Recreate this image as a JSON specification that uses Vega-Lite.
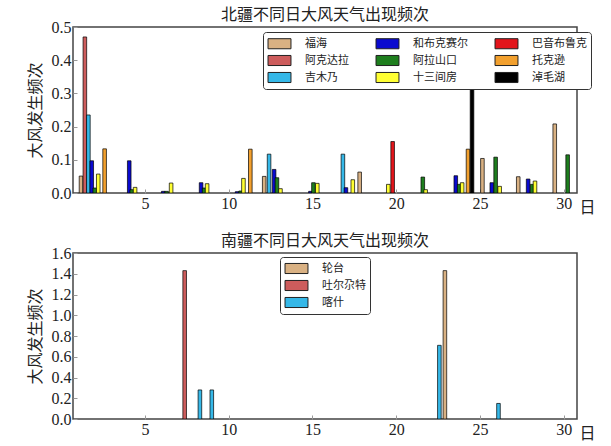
{
  "$schema": "https://vega.github.io/schema/vega-lite/v6.json",
  "background": "white",
  "padding": {"left": 26, "top": 6, "right": 5, "bottom": 0},
  "datasets": {
    "north": [
      {"station": "福海", "pos": 1.18, "freq": 0.051},
      {"station": "阿克达拉", "pos": 1.41, "freq": 0.47},
      {"station": "吉木乃", "pos": 1.62, "freq": 0.235},
      {"station": "和布克赛尔", "pos": 1.82, "freq": 0.097},
      {"station": "阿拉山口", "pos": 2.0, "freq": 0.015},
      {"station": "十三间房", "pos": 2.21, "freq": 0.057},
      {"station": "托克逊", "pos": 2.59, "freq": 0.133},
      {"station": "和布克赛尔", "pos": 4.06, "freq": 0.097},
      {"station": "阿拉山口", "pos": 4.21, "freq": 0.01},
      {"station": "十三间房", "pos": 4.41, "freq": 0.017},
      {"station": "和布克赛尔", "pos": 6.09, "freq": 0.005},
      {"station": "阿拉山口", "pos": 6.29, "freq": 0.005},
      {"station": "十三间房", "pos": 6.56, "freq": 0.03},
      {"station": "和布克赛尔", "pos": 8.35, "freq": 0.031},
      {"station": "阿拉山口", "pos": 8.53, "freq": 0.015},
      {"station": "十三间房", "pos": 8.71, "freq": 0.028},
      {"station": "和布克赛尔", "pos": 10.5, "freq": 0.004},
      {"station": "阿拉山口", "pos": 10.71, "freq": 0.006},
      {"station": "十三间房", "pos": 10.88, "freq": 0.044},
      {"station": "托克逊", "pos": 11.29, "freq": 0.132},
      {"station": "福海", "pos": 12.12, "freq": 0.05},
      {"station": "吉木乃", "pos": 12.41, "freq": 0.117},
      {"station": "和布克赛尔", "pos": 12.71, "freq": 0.071},
      {"station": "阿拉山口", "pos": 12.88, "freq": 0.046},
      {"station": "十三间房", "pos": 13.09, "freq": 0.013},
      {"station": "和布克赛尔", "pos": 14.88, "freq": 0.005},
      {"station": "阿拉山口", "pos": 15.06, "freq": 0.031},
      {"station": "十三间房", "pos": 15.29, "freq": 0.029},
      {"station": "吉木乃", "pos": 16.82, "freq": 0.117},
      {"station": "和布克赛尔", "pos": 17.0, "freq": 0.016},
      {"station": "十三间房", "pos": 17.41, "freq": 0.04},
      {"station": "福海", "pos": 17.82, "freq": 0.063},
      {"station": "十三间房", "pos": 19.53, "freq": 0.026},
      {"station": "巴音布鲁克", "pos": 19.79, "freq": 0.155},
      {"station": "阿拉山口", "pos": 21.59, "freq": 0.048},
      {"station": "十三间房", "pos": 21.76, "freq": 0.01},
      {"station": "和布克赛尔", "pos": 23.56, "freq": 0.052},
      {"station": "阿拉山口", "pos": 23.76, "freq": 0.026},
      {"station": "十三间房", "pos": 23.94, "freq": 0.031},
      {"station": "托克逊", "pos": 24.29, "freq": 0.132},
      {"station": "淖毛湖", "pos": 24.53, "freq": 0.4},
      {"station": "福海", "pos": 25.15, "freq": 0.104},
      {"station": "和布克赛尔", "pos": 25.71, "freq": 0.031},
      {"station": "阿拉山口", "pos": 25.94, "freq": 0.108},
      {"station": "十三间房", "pos": 26.18, "freq": 0.02},
      {"station": "福海", "pos": 27.29, "freq": 0.049},
      {"station": "和布克赛尔", "pos": 27.88, "freq": 0.042},
      {"station": "阿拉山口", "pos": 28.12, "freq": 0.026},
      {"station": "十三间房", "pos": 28.29, "freq": 0.036},
      {"station": "福海", "pos": 29.47, "freq": 0.208},
      {"station": "阿拉山口", "pos": 30.24, "freq": 0.115}
    ],
    "south": [
      {"station": "吐尔尕特", "pos": 7.37, "freq": 1.43},
      {"station": "喀什", "pos": 8.28, "freq": 0.28},
      {"station": "喀什", "pos": 8.99, "freq": 0.28},
      {"station": "喀什", "pos": 22.58, "freq": 0.71},
      {"station": "轮台", "pos": 22.91, "freq": 1.43},
      {"station": "喀什", "pos": 26.11, "freq": 0.15}
    ]
  },
  "vconcat": [
    {
      "width": 504,
      "height": 166,
      "title": {"text": "北疆不同日大风天气出现频次"},
      "data": {"name": "north"},
      "mark": {"type": "bar", "width": 3.6, "stroke": "black", "strokeWidth": 0.7, "clip": true},
      "encoding": {
        "x": {"field": "pos", "type": "quantitative", "scale": {"domain": [1, 30.5], "nice": false, "zero": false},
              "axis": {"values": [5, 10, 15, 20, 25, 30], "title": "日", "titleX": 514, "titleY": 19, "titleAlign": "center", "titleBaseline": "alphabetic", "titleAnchor": null}},
        "y": {"field": "freq", "type": "quantitative", "scale": {"domain": [0, 0.5], "nice": false},
              "axis": {"values": [0, 0.1, 0.2, 0.3, 0.4, 0.5], "format": ".1f", "title": "大风发生频次"}},
        "color": {"field": "station", "type": "nominal",
          "scale": {"domain": ["福海", "阿克达拉", "吉木乃", "和布克赛尔", "阿拉山口", "十三间房", "巴音布鲁克", "托克逊", "淖毛湖"],
                    "range": ["#D9B183", "#CD5C5C", "#35B8E8", "#0A0ACF", "#1E7E1E", "#FFFF33", "#E3151B", "#F2A02E", "#000000"]},
          "legend": {"orient": "none", "legendX": 190, "legendY": 5, "columns": 3, "columnPadding": 25}}
      }
    },
    {
      "width": 504,
      "height": 166,
      "title": {"text": "南疆不同日大风天气出现频次"},
      "data": {"name": "south"},
      "mark": {"type": "bar", "width": 3.6, "stroke": "black", "strokeWidth": 0.7, "clip": true},
      "encoding": {
        "x": {"field": "pos", "type": "quantitative", "scale": {"domain": [1, 30.5], "nice": false, "zero": false},
              "axis": {"values": [5, 10, 15, 20, 25, 30], "title": "日", "titleX": 514, "titleY": 19, "titleAlign": "center", "titleBaseline": "alphabetic", "titleAnchor": null}},
        "y": {"field": "freq", "type": "quantitative", "scale": {"domain": [0, 1.6], "nice": false},
              "axis": {"values": [0, 0.2, 0.4, 0.6, 0.8, 1.0, 1.2, 1.4, 1.6], "format": ".1f", "title": "大风发生频次"}},
        "color": {"field": "station", "type": "nominal",
          "scale": {"domain": ["轮台", "吐尔尕特", "喀什"], "range": ["#D9B183", "#CD5C5C", "#35B8E8"]},
          "legend": {"orient": "none", "legendX": 207, "legendY": 4, "columns": 1}}
      }
    }
  ],
  "spacing": 16,
  "resolve": {"scale": {"color": "independent"}, "legend": {"color": "independent"}},
  "config": {
    "view": {"stroke": "#444", "strokeWidth": 1.5},
    "title": {"font": "Noto Sans CJK SC", "fontSize": 16, "fontWeight": "normal", "color": "#222", "offset": -2, "dy": 2},
    "axis": {
      "grid": false,
      "domain": false,
      "tickColor": "#999",
      "tickSize": -4,
      "labelPadding": 6,
      "labelFont": "Liberation Serif",
      "labelFontSize": 16,
      "labelColor": "#222",
      "titleFont": "Noto Sans CJK SC",
      "titleFontSize": 16,
      "titleFontWeight": "normal",
      "titleColor": "#222"
    },
    "axisY": {"titlePadding": 8},
    "legend": {
      "title": null,
      "strokeColor": "#333",
      "fillColor": "white",
      "padding": 4,
      "cornerRadius": 3,
      "labelFont": "Noto Sans CJK SC",
      "labelFontSize": 11,
      "labelColor": "#222",
      "symbolType": "M-1.64,-0.72H1.64V0.72H-1.64Z",
      "symbolSize": 196,
      "symbolOffset": 5,
      "symbolStrokeColor": "#222",
      "symbolStrokeWidth": 1,
      "symbolOpacity": 1,
      "labelOffset": 18,
      "rowPadding": 2
    }
  }
}
